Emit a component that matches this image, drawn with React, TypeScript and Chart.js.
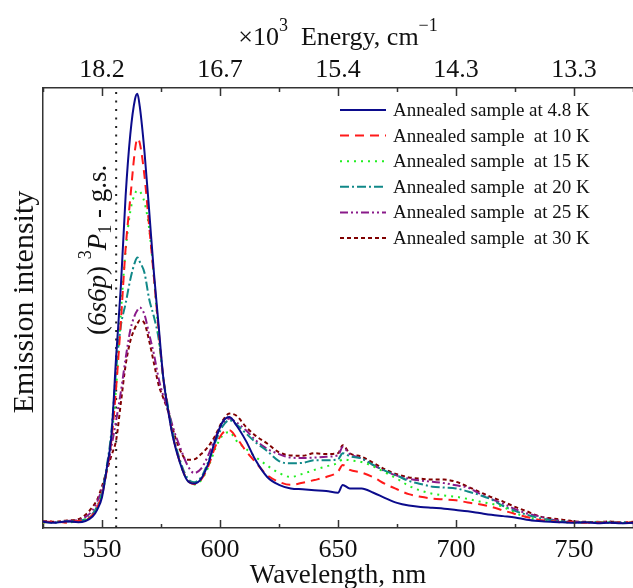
import React, { useEffect, useRef } from 'react';
import { Chart, registerables } from 'chart.js';

Chart.register(...registerables);

// ---- data ----
const wavelengthNm = [
  525, 530, 535, 540, 543, 546, 548, 550, 552, 554, 556, 558, 560, 562, 564, 565, 566, 568,
  570, 572, 574, 576, 578, 580, 583, 586, 589, 592, 595, 598, 601, 604, 607, 611, 615, 620,
  625, 630, 635, 640, 645, 650, 652, 655, 660, 665, 670, 675, 680, 685, 690, 695, 700, 705,
  710, 715, 720, 725, 730, 735, 740, 745, 750, 755, 760, 765, 770, 775,
];

const annealed4_8K = [
  1.4, 1.2, 1.5, 1.3, 1.6, 2.6, 4.2, 7.0, 13.5, 21.0, 39.0, 55.0, 75.4, 89.5, 97.5, 98.7, 95.8, 85.5,
  72.0, 58.0, 46.0, 34.0, 26.8, 20.8, 14.9, 10.9, 10.1, 11.2, 14.6, 20.0, 24.0, 25.2, 23.3, 19.8, 15.5, 11.6,
  9.8, 9.0, 8.8, 8.6, 8.4, 8.0, 9.8, 9.0, 9.0, 8.0, 6.8, 5.7, 5.1, 4.8, 4.6, 4.4, 4.1, 3.8,
  3.4, 3.0, 2.7, 2.4, 1.9, 1.6, 1.4, 1.3, 1.2, 1.3, 1.1, 1.2, 1.1, 1.2,
];

const annealed10K = [
  1.3, 1.5, 1.2, 1.6, 1.8, 3.0, 4.8, 7.5, 13.0, 20.0, 32.0, 47.0, 63.5, 75.0, 86.0, 88.5, 87.5, 80.0,
  68.5, 57.0, 45.0, 34.0, 27.0, 21.0, 15.0, 11.0, 10.0, 11.0, 14.0, 18.5, 21.5, 22.2, 20.5, 17.5, 15.0, 12.0,
  10.5, 9.8, 10.3, 10.9, 11.6, 12.8, 14.3, 13.2, 12.6, 11.5, 10.0, 8.8, 7.7, 7.1, 6.7, 6.5, 6.3, 5.8,
  5.4, 4.8, 4.0, 3.2, 2.5, 1.9, 1.6, 1.3, 1.4, 1.2, 1.3, 1.1, 1.3, 1.2,
];

const annealed15K = [
  1.2, 1.4, 1.3, 1.5, 1.9, 3.0, 4.5, 7.5, 13.0, 20.5, 32.0, 49.0, 63.0, 72.0, 76.0, 76.7, 76.5, 74.0,
  68.0, 57.0, 44.0, 34.0, 27.0, 21.0, 15.0, 11.0, 9.9, 10.8, 13.8, 18.0, 21.0, 21.8, 19.8, 18.0, 16.2, 14.2,
  12.5, 11.6, 12.3, 13.2, 14.0, 14.8, 15.6, 15.4, 15.0, 14.0, 12.6, 11.2, 9.6, 8.5, 7.8, 7.4, 7.1, 6.6,
  6.0, 5.5, 4.8, 3.4, 2.5, 1.9, 1.6, 1.4, 1.2, 1.4, 1.2, 1.3, 1.1, 1.3,
];

const annealed20K = [
  1.4, 1.2, 1.5, 1.6, 2.0, 3.2, 5.0, 8.0, 14.0, 22.0, 36.0, 46.0, 51.0, 56.5, 60.5, 61.5, 60.5, 58.0,
  52.0, 48.0, 43.0, 34.0, 27.5, 21.5, 15.5, 11.5, 10.4, 11.5, 15.0, 19.5, 23.0, 24.5, 23.5, 21.5, 19.5, 17.5,
  15.2, 14.7, 14.8, 15.4, 15.4, 15.6, 17.0, 16.3, 15.8, 14.3, 13.0, 11.9, 10.7, 10.0, 9.4, 9.2, 9.0, 8.3,
  7.5, 6.5, 5.0, 3.9, 3.0, 2.3, 1.8, 1.5, 1.3, 1.2, 1.4, 1.2, 1.3, 1.1,
];

const annealed25K = [
  1.5, 1.3, 1.6, 1.8, 2.5, 4.0, 6.0, 9.0, 13.0, 18.5, 24.5, 31.0, 38.5, 45.0, 48.5, 49.5, 50.1, 48.5,
  44.0, 39.5, 34.0, 30.0, 27.0, 23.0, 18.5, 14.5, 12.5, 13.5, 16.5, 20.5, 23.5, 24.9, 24.0, 22.2, 20.0, 18.0,
  16.8, 16.0, 15.9, 16.0, 16.2, 16.5, 18.4, 16.8, 15.8, 14.3, 12.9, 11.9, 11.2, 10.8, 10.5, 10.2, 9.7, 9.2,
  7.8, 6.6, 5.5, 4.3, 3.3, 2.7, 2.0, 1.6, 1.4, 1.3, 1.2, 1.4, 1.2, 1.3,
];

const annealed30K = [
  1.6, 1.4, 1.7, 2.0, 3.0, 4.8, 6.5, 9.5, 13.0, 16.5, 20.0, 28.5, 37.0, 42.5, 45.5, 46.5, 47.2, 46.5,
  42.5, 37.5, 32.5, 29.5, 26.5, 22.5, 17.8, 15.5, 15.6, 16.8, 18.5, 21.0, 24.3, 26.0, 25.5, 23.0, 21.0, 19.2,
  17.2, 16.5, 16.4, 17.0, 16.8, 17.0, 18.8, 17.0, 16.2, 14.8, 13.3, 12.2, 11.5, 11.2, 11.0, 11.0, 10.5, 9.4,
  8.2, 7.0, 6.0, 4.8, 3.8, 2.7, 2.2, 1.9, 1.5, 1.4, 1.3, 1.5, 1.2, 1.4,
];

const seriesLabels = [
  'Annealed sample at 4.8 K',
  'Annealed sample  at 10 K',
  'Annealed sample  at 15 K',
  'Annealed sample  at 20 K',
  'Annealed sample  at 25 K',
  'Annealed sample  at 30 K',
];
const seriesValues = [annealed4_8K, annealed10K, annealed15K, annealed20K, annealed25K, annealed30K];
const seriesColors = ['#0b0b8c', '#ff1a1a', '#22ee22', '#108888', '#8a1a8a', '#800000'];
const seriesDashes: number[][] = [[], [9, 6], [2, 5], [9, 3, 2, 3], [8, 3, 2, 3, 2, 3], [4, 3]];

const transitionNm = 556;
const annotationLabel = { open: '(', italic: '6s6p', close: ')', sup: '3', term: 'P', sub: '1', tail: ' - g.s.' };
const xTitle = 'Wavelength, nm';
const yTitle = 'Emission intensity';
const topTitle = { pre: '\u00d710', sup: '3', mid: '  Energy, cm', sup2: '\u22121' };

const FONT = "'Liberation Serif', 'Times New Roman', serif";

type Seg = { t: string; size: number; dy: number; italic?: boolean };

function drawSegs(ctx: CanvasRenderingContext2D, segs: Seg[], x: number, y: number, align: 'left' | 'center') {
  ctx.textBaseline = 'alphabetic';
  ctx.textAlign = 'left';
  let total = 0;
  const widths = segs.map((s) => {
    ctx.font = `${s.italic ? 'italic ' : ''}${s.size}px ${FONT}`;
    const w = ctx.measureText(s.t).width;
    total += w;
    return w;
  });
  let cx = align === 'center' ? x - total / 2 : x;
  segs.forEach((s, i) => {
    ctx.font = `${s.italic ? 'italic ' : ''}${s.size}px ${FONT}`;
    ctx.fillText(s.t, cx, y + s.dy);
    cx += widths[i];
  });
}

const decorPlugin = {
  id: 'decor',
  beforeDatasetsDraw(chart: any) {
    const { ctx, chartArea } = chart;
    const xs = chart.scales.x;
    const px = xs.getPixelForValue(transitionNm);
    ctx.save();
    ctx.strokeStyle = '#222';
    ctx.lineWidth = 2;
    ctx.setLineDash([2, 6.5]);
    ctx.beginPath();
    ctx.moveTo(px, chartArea.top + 4);
    ctx.lineTo(px, chartArea.bottom);
    ctx.stroke();
    ctx.restore();
  },
  afterDatasetsDraw(chart: any) {
    const { ctx, chartArea } = chart;
    const xs = chart.scales.x;
    ctx.save();
    // inward tick marks
    ctx.strokeStyle = '#333';
    ctx.lineWidth = 1.5;
    xs.ticks.forEach((t: any) => {
      const p = Math.round(xs.getPixelForValue(t.value)) + 0.5;
      const len = t.value % 50 === 0 ? 8 : 4;
      ctx.beginPath();
      ctx.moveTo(p, chartArea.bottom);
      ctx.lineTo(p, chartArea.bottom - len);
      ctx.moveTo(p, chartArea.top);
      ctx.lineTo(p, chartArea.top + len);
      ctx.stroke();
    });

    // legend
    const rowY0 = 110;
    const rowStep = 25.6;
    chart.data.datasets.forEach((ds: any, i: number) => {
      const y = rowY0 + i * rowStep;
      ctx.save();
      ctx.strokeStyle = ds.borderColor;
      ctx.lineWidth = ds.borderWidth;
      ctx.setLineDash(ds.borderDash || []);
      ctx.beginPath();
      ctx.moveTo(340, y);
      ctx.lineTo(386, y);
      ctx.stroke();
      ctx.restore();
      ctx.fillStyle = '#111';
      ctx.font = `19px ${FONT}`;
      ctx.textAlign = 'left';
      ctx.textBaseline = 'middle';
      ctx.fillText(ds.label, 393, y + 1);
    });

    ctx.fillStyle = '#111';
    // top axis title
    drawSegs(
      ctx,
      [
        { t: topTitle.pre, size: 26, dy: 0 },
        { t: topTitle.sup, size: 18, dy: -14 },
        { t: topTitle.mid, size: 26, dy: 0 },
        { t: topTitle.sup2, size: 18, dy: -14 },
      ],
      (chartArea.left + chartArea.right) / 2,
      45,
      'center'
    );
    // bottom axis title
    drawSegs(ctx, [{ t: xTitle, size: 27, dy: 0 }], (chartArea.left + chartArea.right) / 2, 583, 'center');

    // y title
    ctx.save();
    ctx.translate(33, 302);
    ctx.rotate(-Math.PI / 2);
    drawSegs(ctx, [{ t: yTitle, size: 30, dy: 0 }], 0, 0, 'center');
    ctx.restore();

    // transition annotation
    ctx.save();
    ctx.translate(106, 335);
    ctx.rotate(-Math.PI / 2);
    drawSegs(
      ctx,
      [
        { t: annotationLabel.open, size: 27, dy: 0 },
        { t: annotationLabel.italic, size: 27, dy: 0, italic: true },
        { t: annotationLabel.close + ' ', size: 27, dy: 0 },
        { t: annotationLabel.sup, size: 18, dy: -15 },
        { t: annotationLabel.term, size: 27, dy: 0, italic: true },
        { t: annotationLabel.sub, size: 18, dy: 5 },
        { t: annotationLabel.tail, size: 27, dy: 0 },
      ],
      0,
      0,
      'left'
    );
    ctx.restore();
    ctx.restore();
  },
};

export default function App() {
  const canvasRef = useRef<HTMLCanvasElement | null>(null);

  useEffect(() => {
    const canvas = canvasRef.current;
    if (!canvas) return;
    const datasets = seriesValues.map((vals, i) => ({
      label: seriesLabels[i],
      data: wavelengthNm.map((w, j) => ({ x: w, y: vals[j] })),
      borderColor: seriesColors[i],
      backgroundColor: seriesColors[i],
      borderWidth: 2,
      borderDash: seriesDashes[i],
      pointRadius: 0,
      fill: false,
      cubicInterpolationMode: 'monotone' as const,
    }));
    const tickFont = { family: FONT, size: 26 };
    const chart = new Chart(canvas, {
      type: 'line',
      data: { datasets },
      options: {
        animation: false,
        responsive: false,
        events: [],
        layout: { padding: 0, autoPadding: false },
        plugins: { legend: { display: false }, tooltip: { enabled: false } },
        scales: {
          x: {
            type: 'linear',
            position: 'bottom',
            min: 525,
            max: 775,
            afterFit: (s: any) => {
              s.height = 60;
              s.paddingLeft = 0;
              s.paddingRight = 0;
            },
            grid: { display: false, drawTicks: false },
            border: { display: true, color: '#333', width: 1.5 },
            ticks: {
              stepSize: 25,
              autoSkip: false,
              maxRotation: 0,
              padding: 7,
              color: '#111',
              font: tickFont,
              callback: (v: any) => (Number(v) % 50 === 0 ? String(v) : ''),
            },
          },
          x2: {
            type: 'linear',
            position: 'top',
            min: 525,
            max: 775,
            afterFit: (s: any) => {
              s.height = 88;
              s.paddingLeft = 0;
              s.paddingRight = 0;
            },
            grid: { display: false, drawTicks: false },
            border: { display: true, color: '#333', width: 1.5 },
            ticks: {
              stepSize: 25,
              autoSkip: false,
              maxRotation: 0,
              padding: 2,
              color: '#111',
              font: tickFont,
              callback: (v: any) => (Number(v) % 50 === 0 ? (1e4 / Number(v)).toFixed(1) : ''),
            },
          },
          y: {
            type: 'linear',
            min: 0,
            max: 100,
            afterFit: (s: any) => {
              s.width = 43;
              s.paddingTop = 0;
              s.paddingBottom = 0;
            },
            grid: { display: false, drawTicks: false },
            border: { display: true, color: '#333', width: 1.5 },
            ticks: { display: false },
          },
        },
      },
      plugins: [decorPlugin],
    });
    return () => chart.destroy();
  }, []);

  return (
    <div style={{ position: 'absolute', left: 0, top: 0, width: 633, height: 588, background: '#fff' }}>
      <canvas ref={canvasRef} width={633} height={588} />
    </div>
  );
}
